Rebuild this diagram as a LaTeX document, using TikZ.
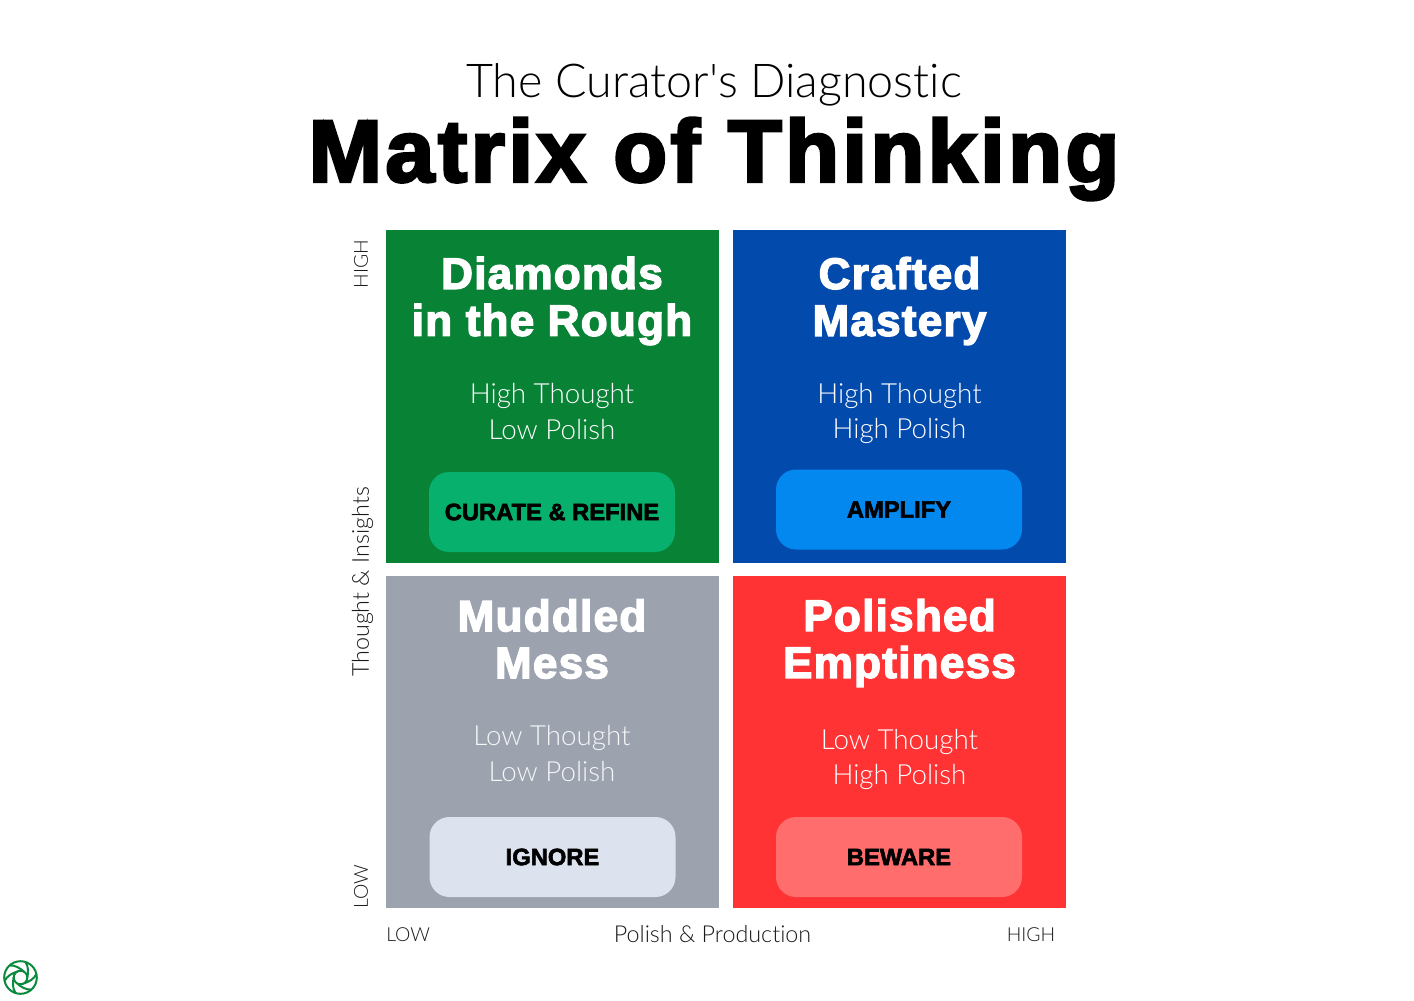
\documentclass[tikz,border=0pt]{standalone}
\usepackage{fontspec}
\setmainfont{Liberation Sans}
\newfontfamily\blackf{Liberation Sans}[BoldFeatures={FakeBold=2.5}]
\newfontfamily\tblackf{Liberation Sans}[BoldFeatures={FakeBold=3.2,LetterSpace=2.9}]
\newfontfamily\mblackf{Liberation Sans}[BoldFeatures={FakeBold=3.4,LetterSpace=4.0}]
\newfontfamily\lightf{Lato Light}[Ligatures=NoCommon]
\definecolor{cgreen}{HTML}{088234}
\definecolor{cblue}{HTML}{034AAD}
\definecolor{cgray}{HTML}{9CA3AF}
\definecolor{cred}{HTML}{FF3333}
\definecolor{bgreen}{HTML}{07B06C}
\definecolor{bblue}{HTML}{0388F0}
\definecolor{bgray}{HTML}{DCE2EE}
\definecolor{bred}{HTML}{FF6D6D}
\definecolor{logog}{HTML}{0A8A3C}
\tikzset{x=0.75pt,y=-0.75pt,
 quad/.style={inner sep=0,minimum width=249.4pt,minimum height=249.4pt,anchor=north west},
 btn/.style={rounded corners=15pt,inner sep=0,minimum width=184.5pt,minimum height=60pt,font=\blackf\fontsize{17.8}{20}\selectfont\bfseries,text=black},
 ttl/.style={align=center,text=white,font=\tblackf\fontsize{33}{35.2}\selectfont\bfseries},
 sub/.style={align=center,text=white,font=\lightf\fontsize{20.8}{26.3}\selectfont},
 ax/.style={inner sep=0,font=\lightf\fontsize{14.5}{18}\selectfont,text=black!90},
 axm/.style={ax,font=\lightf\fontsize{17.5}{18}\selectfont}}
\begin{document}
\begin{tikzpicture}
\useasboundingbox (0,0) rectangle (1414,1000);
\node[font=\lightf\fontsize{35}{38}\selectfont] (sup) at (714,84.5) {The Curator\symbol{39}s Diagnostic};
\node[font=\mblackf\fontsize{66}{70}\selectfont\bfseries] (main) at (714,159) {Matrix of Thinking};
\node[quad,fill=cgreen] (q1) at (386,230) {};
\node[quad,fill=cblue] (q2) at (733,230) {};
\node[quad,fill=cgray] (q3) at (386,575.5) {};
\node[quad,fill=cred] (q4) at (733,575.5) {};
\node[ttl] (t1) at (552,301) {Diamonds\\in the Rough};
\node[ttl] (t2) at (899.5,301) {Crafted\\Mastery};
\node[ttl] (t3) at (552,639) {Muddled\\Mess};
\node[ttl] (t4) at (899.5,643) {Polished\\Emptiness};
\node[sub] (s1) at (552,411.5) {High Thought\\Low Polish};
\node[sub] (s2) at (899.5,413.5) {High Thought\\High Polish};
\node[sub,text=white!90!cgray] (s3) at (552,753.5) {Low Thought\\Low Polish};
\node[sub] (s4) at (899.5,759.5) {Low Thought\\High Polish};
\node[btn,fill=bgreen] (b1) at (552,512) {CURATE \& REFINE};
\node[btn,fill=bblue] (b2) at (899,509.5) {AMPLIFY};
\node[btn,fill=bgray] (b3) at (552.5,857) {IGNORE};
\node[btn,fill=bred] (b4) at (899,857) {BEWARE};
\node[ax,rotate=90] (yh) at (361,264) {HIGH};
\node[axm,rotate=90] (ym) at (362.5,582) {Thought \& Insights};
\node[ax,rotate=90] (yl) at (361,887) {LOW};
\node[ax,anchor=west] (xl) at (386,934.5) {LOW};
\node[axm] (xm) at (712.5,934.5) {Polish \& Production};
\node[ax,anchor=east] (xh) at (1055.5,934.5) {HIGH};
\begin{scope}[shift={(20.5,977.5)},logog,line width=1.5pt]
\draw (0,0) circle (16.3);
\draw (0,0) circle (6.8);
\foreach \a in {0,60,...,300}
 \draw[rotate=\a] (6.8,0) .. controls (8,-5) and (8,-11) .. (5,-15.5);
\end{scope}
\end{tikzpicture}
\end{document}
